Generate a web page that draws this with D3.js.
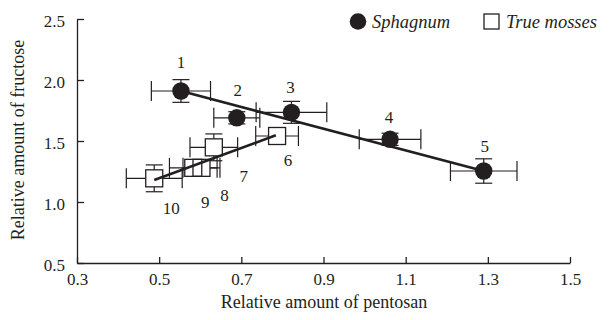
<!DOCTYPE html>
<html>
<head>
<meta charset="utf-8">
<script src="https://cdn.jsdelivr.net/npm/d3@7"></script>
</head>
<body style="margin:0">
<svg id="chart" width="615" height="320"></svg>
<script>
// ---------- data ----------
const sphagnumIds = ["1", "2", "3", "4", "5"];
const sphagnumX   = [0.553, 0.689, 0.822, 1.062, 1.290];
const sphagnumY   = [1.910, 1.690, 1.735, 1.514, 1.254];
const sphagnumXErr = [0.072, 0.056, 0.086, 0.075, 0.081];
const sphagnumYErr = [0.093, 0.050, 0.090, 0.050, 0.100];

const mossIds = ["6", "7", "8", "9", "10"];
const mossX   = [0.787, 0.633, 0.603, 0.583, 0.488];
const mossY   = [1.541, 1.448, 1.280, 1.280, 1.194];
const mossXErr = [0.052, 0.058, 0.045, 0.058, 0.068];
const mossYErr = [0.050, 0.110, 0.050, 0.050, 0.110];

// fitted trend lines (start / end)
const sphagnumFitX = [0.553, 1.290];
const sphagnumFitY = [1.910, 1.254];
const mossFitX = [0.488, 0.784];
const mossFitY = [1.180, 1.547];

const xTicks = [0.3, 0.5, 0.7, 0.9, 1.1, 1.3, 1.5];
const yTicks = [0.5, 1.0, 1.5, 2.0, 2.5];
const seriesNames = ["Sphagnum", "True mosses"];
const xTitle = "Relative amount of pentosan";
const yTitle = "Relative amount of fructose";

// ---------- layout (not data) ----------
const sphagnumLabelOffset = [[0, -23], [1, -22], [-1, -19], [-1, -16], [1, -19]];
const mossLabelOffset = [[11, 30], [30, 35], [23, 33], [12, 40], [17, 36]];

const ink = "#231f20";
const FONT = "Liberation Serif";
const svg = d3.select("#chart");
const x = d3.scaleLinear().domain([0.3, 1.5]).range([77, 570]);
const y = d3.scaleLinear().domain([0.5, 2.5]).range([263, 19]);

function txt(sel, size) {
  return sel.style("font-family", FONT).style("font-size", size + "px").attr("fill", ink);
}

// axes
const xAxis = d3.axisBottom(x).tickValues(xTicks).tickSize(-6).tickSizeOuter(0).tickPadding(10)
  .tickFormat(d3.format(".1f"));
const yAxis = d3.axisLeft(y).tickValues(yTicks).tickSize(-7).tickSizeOuter(0).tickPadding(12)
  .tickFormat(d3.format(".1f"));

const gx = svg.append("g").attr("transform", "translate(0,263)").call(xAxis);
const gy = svg.append("g").attr("transform", "translate(77,0)").call(yAxis);
[gx, gy].forEach(g => {
  g.attr("font-family", null).attr("font-size", null);
  g.selectAll("path.domain").attr("stroke", ink).attr("stroke-width", 1.3);
  g.selectAll(".tick line").attr("stroke", ink).attr("stroke-width", 1.3);
  txt(g.selectAll(".tick text"), 17);
});
gy.selectAll(".tick text").attr("dy", "0.45em");

txt(svg.append("text").attr("x", 324).attr("y", 308).attr("text-anchor", "middle"), 18).text(xTitle);
txt(svg.append("text").attr("transform", "translate(24,140) rotate(-90)").attr("text-anchor", "middle"), 18).text(yTitle);

const sph = sphagnumIds.map((id, i) => ({id, x: sphagnumX[i], y: sphagnumY[i], ex: sphagnumXErr[i], ey: sphagnumYErr[i], off: sphagnumLabelOffset[i]}));
const mos = mossIds.map((id, i) => ({id, x: mossX[i], y: mossY[i], ex: mossXErr[i], ey: mossYErr[i], off: mossLabelOffset[i]}));

function errorBars(data) {
  const g = svg.append("g").attr("stroke", ink).attr("stroke-width", 1.2).attr("fill", "none");
  const capH = 10, capW = 8.5;
  data.forEach(d => {
    const cx = x(d.x), cy = y(d.y);
    const x0 = x(d.x - d.ex), x1 = x(d.x + d.ex);
    const y0 = y(d.y + d.ey), y1 = y(d.y - d.ey);
    g.append("line").attr("x1", x0).attr("x2", x1).attr("y1", cy).attr("y2", cy);
    g.append("line").attr("x1", x0).attr("x2", x0).attr("y1", cy - capH).attr("y2", cy + capH);
    g.append("line").attr("x1", x1).attr("x2", x1).attr("y1", cy - capH).attr("y2", cy + capH);
    g.append("line").attr("x1", cx).attr("x2", cx).attr("y1", y0).attr("y2", y1);
    g.append("line").attr("x1", cx - capW).attr("x2", cx + capW).attr("y1", y0).attr("y2", y0);
    g.append("line").attr("x1", cx - capW).attr("x2", cx + capW).attr("y1", y1).attr("y2", y1);
  });
}
errorBars(mos);
errorBars(sph);

const sq = 17;
svg.append("g").selectAll("rect").data(mos).join("rect")
  .attr("x", d => x(d.x) - sq / 2).attr("y", d => y(d.y) - sq / 2)
  .attr("width", sq).attr("height", sq).attr("fill", "#fff").attr("stroke", "none");
svg.append("g").selectAll("rect").data(mos).join("rect")
  .attr("x", d => x(d.x) - sq / 2).attr("y", d => y(d.y) - sq / 2)
  .attr("width", sq).attr("height", sq).attr("fill", "none").attr("stroke", ink).attr("stroke-width", 1.3);

// trend lines
const line = d3.line().x(d => x(d[0])).y(d => y(d[1]));
svg.append("path").datum(sphagnumFitX.map((v, i) => [v, sphagnumFitY[i]]))
  .attr("d", line).attr("stroke", ink).attr("stroke-width", 2.6).attr("fill", "none");
svg.append("path").datum(mossFitX.map((v, i) => [v, mossFitY[i]]))
  .attr("d", line).attr("stroke", ink).attr("stroke-width", 2.6).attr("fill", "none");

// circles
svg.append("g").selectAll("circle").data(sph).join("circle")
  .attr("cx", d => x(d.x)).attr("cy", d => y(d.y)).attr("r", 8.7).attr("fill", ink);

// point labels
txt(svg.append("g").selectAll("text").data(sph.concat(mos)).join("text")
  .attr("x", d => x(d.x) + d.off[0]).attr("y", d => y(d.y) + d.off[1])
  .attr("text-anchor", "middle"), 17).text(d => d.id);

// legend
const lg = svg.append("g");
lg.append("circle").attr("cx", 358).attr("cy", 21.5).attr("r", 8.3).attr("fill", ink);
txt(lg.append("text").attr("x", 372).attr("y", 28), 18.5).style("font-style", "italic").text(seriesNames[0]);
lg.append("rect").attr("x", 484).attr("y", 14).attr("width", 15).attr("height", 15)
  .attr("fill", "#fff").attr("stroke", ink).attr("stroke-width", 1.3);
txt(lg.append("text").attr("x", 506).attr("y", 28), 18.5).style("font-style", "italic").text(seriesNames[1]);
</script>
</body>
</html>
